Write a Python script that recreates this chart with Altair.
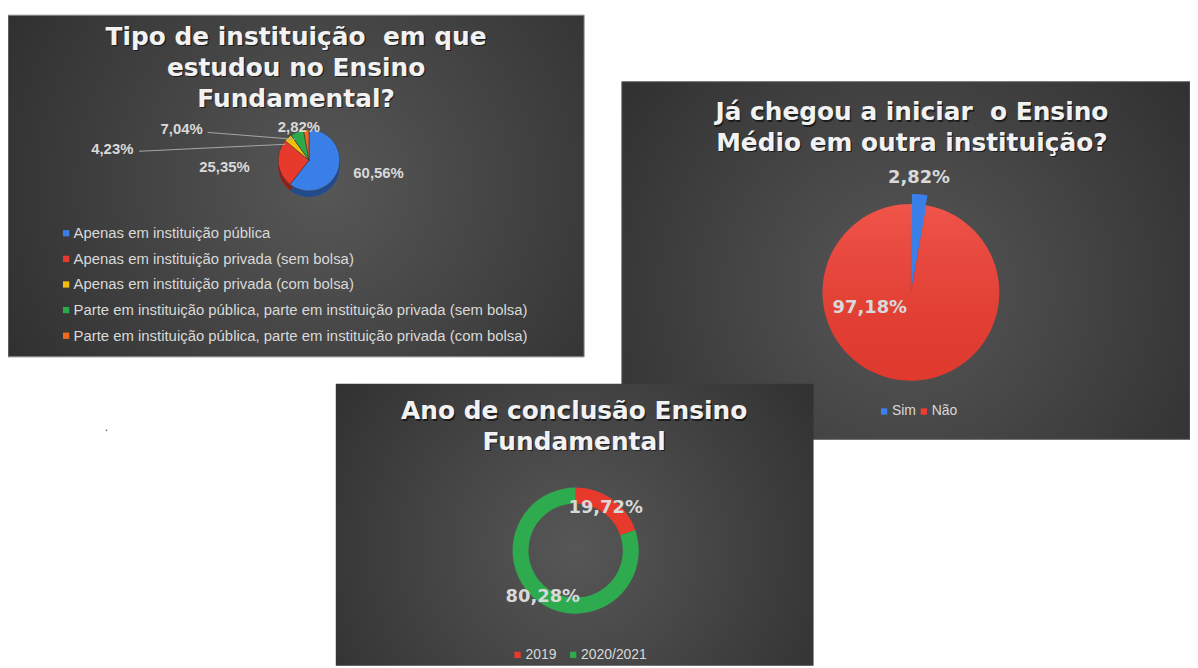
import altair as alt
import pandas as pd

# ---------------- data ----------------
cats1 = [
    "Apenas em instituição pública",
    "Apenas em instituição privada (sem bolsa)",
    "Apenas em instituição privada (com bolsa)",
    "Parte em instituição pública, parte em instituição privada (sem bolsa)",
    "Parte em instituição pública, parte em instituição privada (com bolsa)",
]
vals1 = [60.56, 25.35, 4.23, 7.04, 2.82]
colors1 = ["#3a7ee8", "#e8392d", "#f2bd0c", "#2da84b", "#f06a1d"]

cats2 = ["Sim", "Não"]
vals2 = [2.82, 97.18]
colors2 = ["#3b7fe9", "#ee3d31"]

cats3 = ["2019", "2020/2021"]
vals3 = [19.72, 80.28]
colors3 = ["#e8392d", "#2eaa4f"]

NB = "\u00a0"
title1 = ["Tipo de instituição " + NB + "em que", "estudou no Ensino", "Fundamental?"]
title2 = ["Já chegou a iniciar " + NB + "o Ensino", "Médio em outra instituição?"]
title3 = ["Ano de conclusão Ensino", "Fundamental"]


def fmt(v):
    return f"{v:.2f}%".replace(".", ",")


def frame(field, cats, vals):
    return pd.DataFrame({field: cats, "val": vals, "idx": list(range(len(cats))),
                         "lbl": [fmt(v) for v in vals]})


df1 = frame("cat1", cats1, vals1)
df2 = frame("cat2", cats2, vals2)
df3 = frame("cat3", cats3, vals3)
one = pd.DataFrame({"a": [0]})

O = 8  # page margin


def px(v):
    return v - O


TXT = "#d9d9d9"


def panel(x0, y0, x1, y1, cx, cy, stroke=None):
    kw = dict(fill={"gradient": "radial", "x1": cx, "y1": cy, "r1": 0,
                    "x2": cx, "y2": cy, "r2": 0.8,
                    "stops": [{"offset": 0, "color": "#575757"},
                              {"offset": 1, "color": "#252525"}]})
    if stroke:
        kw.update(stroke=stroke, strokeWidth=1)
    return alt.Chart(one).mark_rect(**kw).encode(
        x=alt.value(px(x0)), x2=alt.value(px(x1)),
        y=alt.value(px(y0)), y2=alt.value(px(y1)))


def title(lines, cx, y0, step=31, size=25):
    out = []
    for i, s in enumerate(lines):
        y = y0 + i * step
        out.append(alt.Chart(one).mark_text(text=s, font="DejaVu Sans", fontWeight="bold",
                                            fontSize=size, color="#000000", opacity=0.55,
                                            align="center", baseline="middle").encode(
            x=alt.value(px(cx) + 1.2), y=alt.value(px(y) + 1.2)))
        out.append(alt.Chart(one).mark_text(text=s, font="DejaVu Sans", fontWeight="bold",
                                            fontSize=size, color="#f2f2f2",
                                            align="center", baseline="middle").encode(
            x=alt.value(px(cx)), y=alt.value(px(y))))
    return out


def arcs(df, field, scale, cx, cy, r, r2=None, legend=None, color=None, **mk):
    m = dict(radius=r)
    if r2 is not None:
        m["radius2"] = r2
    m.update(mk)
    enc = dict(theta=alt.Theta("val:Q", stack=True), order=alt.Order("idx:Q"),
               x=alt.value(px(cx)), y=alt.value(px(cy)))
    if color is None:
        enc["color"] = alt.Color(f"{field}:N", scale=scale, legend=legend)
    else:
        m["color"] = color
    return alt.Chart(df).mark_arc(**m).encode(**enc)


def lab(df, field, cat, cx, cy, R, dx, dy, font, size, color=TXT):
    return alt.Chart(df).mark_text(radius=R, dx=dx, dy=dy, font=font, fontSize=size,
                                   fontWeight="bold", color=color,
                                   align="center", baseline="middle").encode(
        theta=alt.Theta("val:Q", stack=True), order=alt.Order("idx:Q"),
        text="lbl:N", x=alt.value(px(cx)), y=alt.value(px(cy)),
        opacity=alt.condition(alt.datum[field] == cat, alt.value(1), alt.value(0)))


def leg(x, y, direction, col_pad=8, row_pad=12, size=14, offset=1):
    return alt.Legend(title=None, orient="none", legendX=px(x), legendY=px(y),
                      direction=direction, symbolType="square", symbolSize=40,
                      symbolStrokeWidth=0, labelFont="Liberation Sans", labelFontSize=size,
                      labelColor=TXT, labelLimit=700, rowPadding=row_pad,
                      columnPadding=col_pad, padding=0, labelOffset=offset)


# ---------------- panels ----------------
bg1 = panel(8, 13, 588, 357, 0.55, 0.5, stroke="#8a8a8a")
bg2 = panel(626, 80, 1198, 440, 0.5, 0.55, stroke="#5e5e5e")
bg3 = panel(338, 384, 819, 668, 0.5, 0.55)

# ---------------- pie 1 (3D-like) ----------------
s1 = alt.Scale(domain=cats1, range=colors1)
L1 = leg(59, 225, "vertical", row_pad=9.8, size=15, offset=0)
c1x, c1y, r1 = 311, 159, 31
pie1 = alt.layer(
    arcs(df1, "cat1", s1, c1x, c1y + 6, r1, legend=L1),
    arcs(df1, "cat1", s1, c1x, c1y + 6, r1, color="#000000", opacity=0.4),
    arcs(df1, "cat1", s1, c1x, c1y, r1, legend=L1,
         stroke="#3a3a3a", strokeWidth=0.6),
    alt.Chart(one).mark_rule(color="#a6a6a6", strokeWidth=1).encode(
        x=alt.value(px(140)), y=alt.value(px(150)), x2=alt.value(px(287)), y2=alt.value(px(143))),
    alt.Chart(one).mark_rule(color="#a6a6a6", strokeWidth=1).encode(
        x=alt.value(px(209)), y=alt.value(px(131)), x2=alt.value(px(297)), y2=alt.value(px(138))),
    lab(df1, "cat1", cats1[0], c1x, c1y, 72, 2, -11, "Liberation Sans", 15),
    lab(df1, "cat1", cats1[1], c1x, c1y, 82, -3.5, -2, "Liberation Sans", 15),
    lab(df1, "cat1", cats1[2], c1x, c1y, 30, -177.5, 11, "Liberation Sans", 15),
    lab(df1, "cat1", cats1[3], c1x, c1y, 30, -116.5, -4, "Liberation Sans", 15),
    lab(df1, "cat1", cats1[4], c1x, c1y, 36, -7, 2, "Liberation Sans", 15),
)

# ---------------- pie 2 ----------------
s2 = alt.Scale(domain=cats2, range=colors2)
c2x, c2y, r2 = 917, 292, 89
pie2 = alt.layer(
    arcs(df2, "cat2", s2, c2x, c2y, r2, legend=leg(883, 405, "horizontal", col_pad=0)),
    arcs(df2, "cat2", s2, c2x, c2y, r2, color={
        "gradient": "linear", "x1": 0, "y1": 0, "x2": 0, "y2": 1,
        "stops": [{"offset": 0, "color": "rgba(255,255,255,0.12)"},
                  {"offset": 1, "color": "rgba(0,0,0,0.06)"}]}),
    arcs(df2, "cat2", s2, c2x + 1, c2y - 10, r2,
         opacity=1).encode(opacity=alt.condition(alt.datum.cat2 == "Sim", alt.value(1), alt.value(0))),
    lab(df2, "cat2", "Sim", c2x, c2y, 115, -2, 0, "DejaVu Sans", 18),
    lab(df2, "cat2", "Não", c2x, c2y, 16, -40, 0, "DejaVu Sans", 18),
)

# ---------------- pie 3 (donut) ----------------
s3 = alt.Scale(domain=cats3, range=colors3)
c3x, c3y = 579.5, 552
pie3 = alt.layer(
    arcs(df3, "cat3", s3, c3x, c3y, 63.5, r2=47.5,
         legend=leg(514, 650, "horizontal", col_pad=9)),
    lab(df3, "cat3", "2019", c3x, c3y, 52, 0, 0, "DejaVu Sans", 18),
    lab(df3, "cat3", "2020/2021", c3x, c3y, 57, 0, 0, "DejaVu Sans", 18),
)

dot = alt.Chart(one).mark_text(text=".", fontSize=12, color="#444444").encode(
    x=alt.value(px(107)), y=alt.value(px(428)))

layers = ([bg1] + title(title1, 298, 35) + [pie1, bg2] + title(title2, 918, 111) + [pie2]
          + [bg3] + title(title3, 578, 412) + [pie3, dot])

chart = alt.layer(*layers).resolve_scale(color="independent").properties(
    width=1190, height=660, autosize=alt.AutoSizeParams(type="none"),
    padding=0, background="white"
).configure_view(strokeWidth=0)

chart.save("out.html", embed_options={"renderer": "svg", "actions": False})
